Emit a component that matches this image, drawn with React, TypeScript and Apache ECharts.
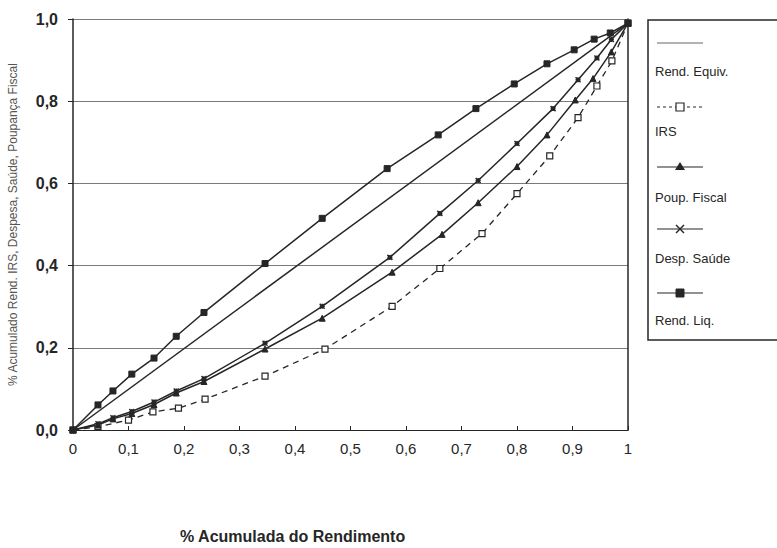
import React, { useEffect, useRef } from "react";
import * as echarts from "echarts";

// Data
const rendEquivX = [0, 1];
const rendEquivY = [0, 0.99];

const irsX = [0, 0.045, 0.1, 0.144, 0.19, 0.238, 0.346, 0.454, 0.575, 0.661, 0.737, 0.8, 0.859, 0.91, 0.944, 0.971, 1];
const irsY = [0, 0.008, 0.024, 0.044, 0.053, 0.075, 0.131, 0.197, 0.301, 0.393, 0.478, 0.575, 0.667, 0.76, 0.837, 0.898, 0.99];

const poupX = [0, 0.045, 0.072, 0.106, 0.146, 0.186, 0.236, 0.346, 0.449, 0.575, 0.665, 0.73, 0.8, 0.854, 0.905, 0.937, 0.97, 1];
const poupY = [0, 0.012, 0.027, 0.04, 0.062, 0.09, 0.118, 0.197, 0.272, 0.384, 0.476, 0.553, 0.641, 0.718, 0.803, 0.855, 0.92, 0.99];

const despX = [0, 0.045, 0.072, 0.106, 0.146, 0.186, 0.236, 0.346, 0.449, 0.571, 0.661, 0.73, 0.8, 0.865, 0.91, 0.944, 0.97, 1];
const despY = [0, 0.015, 0.03, 0.045, 0.068, 0.095, 0.125, 0.211, 0.301, 0.42, 0.527, 0.607, 0.697, 0.782, 0.852, 0.905, 0.95, 0.99];

const liqX = [0, 0.045, 0.072, 0.106, 0.146, 0.186, 0.236, 0.346, 0.449, 0.566, 0.658, 0.726, 0.795, 0.854, 0.903, 0.939, 0.968, 1];
const liqY = [0, 0.061, 0.095, 0.136, 0.175, 0.228, 0.286, 0.405, 0.515, 0.636, 0.718, 0.782, 0.842, 0.891, 0.925, 0.951, 0.966, 0.99];

const seriesNames = ["Rend. Equiv.", "IRS", "Poup. Fiscal", "Desp. Saúde", "Rend. Liq."];
const xTickLabels = ["0", "0,1", "0,2", "0,3", "0,4", "0,5", "0,6", "0,7", "0,8", "0,9", "1"];
const yTickLabels = ["0,0", "0,2", "0,4", "0,6", "0,8", "1,0"];

const INK = "#262626";
const FONT = "Liberation Sans";
const starPath = "path://M0,0 L10,10 M10,0 L0,10 M5,0 L5,10 M0,5 L10,5";

const pairs = (xs: number[], ys: number[]) => xs.map((x, i) => [x, ys[i]]);

export default function App() {
  const ref = useRef<HTMLDivElement>(null);
  useEffect(() => {
    if (!ref.current) return;
    const chart = echarts.init(ref.current, undefined, { renderer: "svg" });
    const legendY = [43, 107, 167, 229, 293];
    const textY = [71, 131, 197, 258, 320];
    const lx0 = 657, lx1 = 703, lxm = 680;
    const legendGraphics: any[] = [
      { type: "rect", shape: { x: 648, y: 20, width: 140, height: 320 }, style: { fill: "#fff", stroke: INK, lineWidth: 1.5 } },
    ];
    seriesNames.forEach((n, i) => {
      const y = legendY[i];
      legendGraphics.push({
        type: "line",
        shape: { x1: lx0, y1: y, x2: lx1, y2: y },
        style: { stroke: i === 0 ? "#999" : INK, lineWidth: i === 0 ? 1.5 : 1.2, lineDash: i === 1 ? [3, 3] : null },
      });
      if (i === 1) legendGraphics.push({ type: "rect", shape: { x: lxm - 4, y: y - 4, width: 8, height: 8 }, style: { fill: "#fff", stroke: INK, lineWidth: 1.2 } });
      if (i === 2) legendGraphics.push({ type: "polygon", shape: { points: [[lxm, y - 5], [lxm - 5, y + 3], [lxm + 5, y + 3]] }, style: { fill: INK } });
      if (i === 3) {
        legendGraphics.push({ type: "line", shape: { x1: lxm - 4, y1: y - 4, x2: lxm + 4, y2: y + 4 }, style: { stroke: INK, lineWidth: 1.5 } });
        legendGraphics.push({ type: "line", shape: { x1: lxm - 4, y1: y + 4, x2: lxm + 4, y2: y - 4 }, style: { stroke: INK, lineWidth: 1.5 } });
      }
      if (i === 4) legendGraphics.push({ type: "rect", shape: { x: lxm - 4, y: y - 4, width: 8, height: 8 }, style: { fill: INK, stroke: INK } });
      legendGraphics.push({
        type: "text",
        x: 655,
        y: textY[i],
        style: { text: n, fill: INK, font: `13px "${FONT}"`, textVerticalAlign: "middle", verticalAlign: "middle" },
      });
    });

    const lineBase = { type: "line", smooth: false, lineStyle: { color: INK, width: 1.5 }, itemStyle: { color: INK, borderColor: INK }, emphasis: { disabled: true } };

    chart.setOption({
      animation: false,
      backgroundColor: "#fff",
      grid: { left: 73, right: 149, top: 19, bottom: 118, containLabel: false, outerBoundsMode: "none" },
      xAxis: {
        type: "value",
        min: 0,
        max: 1,
        interval: 0.1,
        axisLine: { show: true, lineStyle: { color: INK, width: 1.2 } },
        axisTick: { show: true, inside: true, length: 4, lineStyle: { color: INK } },
        axisLabel: {
          color: INK,
          fontFamily: FONT,
          fontSize: 15,
          margin: 11,
          formatter: (v: number) => xTickLabels[Math.round(v * 10)] ?? "",
        },
        splitLine: { show: false },
      },
      yAxis: [
        {
          type: "value",
          min: 0,
          max: 1,
          interval: 0.2,
          name: "% Acumulado Rend. IRS, Despesa, Saúde, Poupança Fiscal",
          nameLocation: "middle",
          nameGap: 54,
          nameTextStyle: { color: "#555", fontFamily: FONT, fontSize: 12 },
          axisLine: { show: true, lineStyle: { color: INK, width: 1.5 } },
          axisTick: { show: true, length: 5, lineStyle: { color: INK } },
          axisLabel: {
            color: INK,
            fontFamily: FONT,
            fontSize: 16,
            fontWeight: "bold",
            margin: 15,
            formatter: (v: number) => yTickLabels[Math.round(v * 5)] ?? "",
          },
          splitLine: { show: true, lineStyle: { color: "#7a7a7a", width: 1.2 } },
        },
        {
          type: "value",
          min: 0,
          max: 1,
          position: "right",
          axisLine: { show: true, lineStyle: { color: INK, width: 1.5 } },
          axisTick: { show: false },
          axisLabel: { show: false },
          splitLine: { show: false },
        },
      ],
      series: [
        { ...lineBase, name: seriesNames[0], data: pairs(rendEquivX, rendEquivY), showSymbol: false, symbol: "none" },
        {
          ...lineBase,
          name: seriesNames[1],
          data: pairs(irsX, irsY),
          symbol: "rect",
          symbolSize: 6,
          lineStyle: { color: INK, width: 1.3, type: [6, 5] },
          itemStyle: { color: "#fff", borderColor: INK, borderWidth: 1.2 },
        },
        { ...lineBase, name: seriesNames[2], data: pairs(poupX, poupY), symbol: "triangle", symbolSize: 6 },
        {
          ...lineBase,
          name: seriesNames[3],
          data: pairs(despX, despY),
          symbol: starPath,
          symbolSize: 5,
          itemStyle: { color: INK, borderColor: INK, borderWidth: 1.5 },
        },
        { ...lineBase, name: seriesNames[4], data: pairs(liqX, liqY), symbol: "rect", symbolSize: 6 },
      ],
      graphic: [
        ...legendGraphics,
        {
          type: "text",
          left: 180,
          top: 528,
          style: { text: "% Acumulada do Rendimento", fill: INK, font: `bold 16px "${FONT}"` },
        },
      ],
    });
    return () => chart.dispose();
  }, []);
  return <div ref={ref} style={{ width: 777, height: 548, position: "absolute", left: 0, top: 0 }} />;
}
